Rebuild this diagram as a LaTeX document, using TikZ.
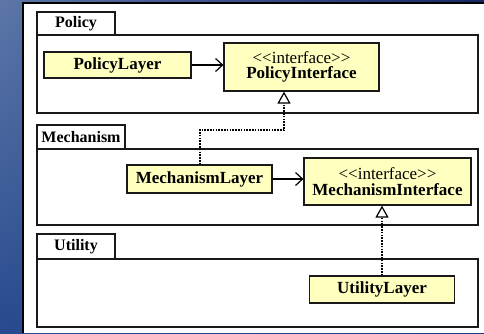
\documentclass[tikz,border=0pt]{standalone}
\usepackage{fontspec}
\setmainfont{Liberation Serif}[Ligatures=Common]
\usetikzlibrary{arrows.meta,shadings}
\definecolor{bgul}{RGB}{92,118,168}
\definecolor{bgll}{RGB}{40,74,142}
\definecolor{bgur}{RGB}{22,40,100}
\definecolor{bglr}{RGB}{30,58,128}
\definecolor{classfill}{RGB}{255,255,192}
\newcommand{\stereo}[1]{\mdseries<\kern0pt<#1>\kern0pt>}
\tikzset{
  classbox/.style={draw=black!90, line width=1.2pt, fill=classfill,
    inner sep=0pt, font=\rmfamily\fontsize{17}{17.5}\selectfont\bfseries, align=center},
  pkgline/.style={draw=black!90, line width=1.3pt},
  pkgtab/.style={font=\rmfamily\fontsize{16}{16}\selectfont\bfseries},
  depend/.style={line width=1.2pt, -{Straight Barb[length=7pt,width=13pt,line width=1.2pt]}},
  realize/.style={line width=2pt, dash pattern=on 1.6pt off 1.2pt,
    -{Triangle[open,length=12pt,width=13pt,line width=1.2pt,fill=white,sep=0pt]}},
}
\begin{document}
\begin{tikzpicture}[x=1pt,y=-1pt]
  % page background and white sheet
  \useasboundingbox (0,0) rectangle (484,333);
  \shade[upper left=bgul, lower left=bgll, upper right=bgur, lower right=bglr]
    (0,0) rectangle (484,333);
  \fill[white] (23,3) rectangle (484,333);
  \draw[black, line width=1.5pt] (23,333) -- (23,3) -- (484,3);

  % packages
  \draw[pkgline] (37,12) rectangle (115,35);
  \draw[pkgline] (37,35) rectangle (478,113);
  \node[pkgtab] (ptab) at (76,24) {Policy};

  \draw[pkgline] (37,125) rectangle (125,149);
  \draw[pkgline] (37,149) rectangle (478,225);
  \node[pkgtab] (mtab) at (81,137) {Mechanism};

  \draw[pkgline] (37,234) rectangle (115,259);
  \draw[pkgline] (37,259) rectangle (478,327);
  \node[pkgtab] (utab) at (76,247) {Utility};

  % classes
  \node[classbox, minimum width=147pt, minimum height=26pt] (pl) at (117.5,65) {PolicyLayer};
  \node[classbox, minimum width=155pt, minimum height=48pt] (pi) at (301.5,67)
    {\stereo{interface}\\[-2pt] PolicyInterface};
  \node[classbox, minimum width=145pt, minimum height=28pt] (ml) at (199.5,179) {MechanismLayer};
  \node[classbox, minimum width=167pt, minimum height=47pt] (mi) at (387.5,181.5)
    {\stereo{interface}\\[-2pt] MechanismInterface};
  \node[classbox, minimum width=145pt, minimum height=27pt] (ul) at (382,289.5) {UtilityLayer};

  % connectors
  \coordinate (bend) at (284,130);
  \draw[depend] (pl.east) -- (pl.east -| pi.west);
  \draw[depend] (ml.east) -- (ml.east -| mi.west);
  \draw[realize] (ml.north) |- (bend) -- (bend |- pi.south);
  \draw[realize] (ul.north) -- (ul.north |- mi.south);
\end{tikzpicture}
\end{document}
